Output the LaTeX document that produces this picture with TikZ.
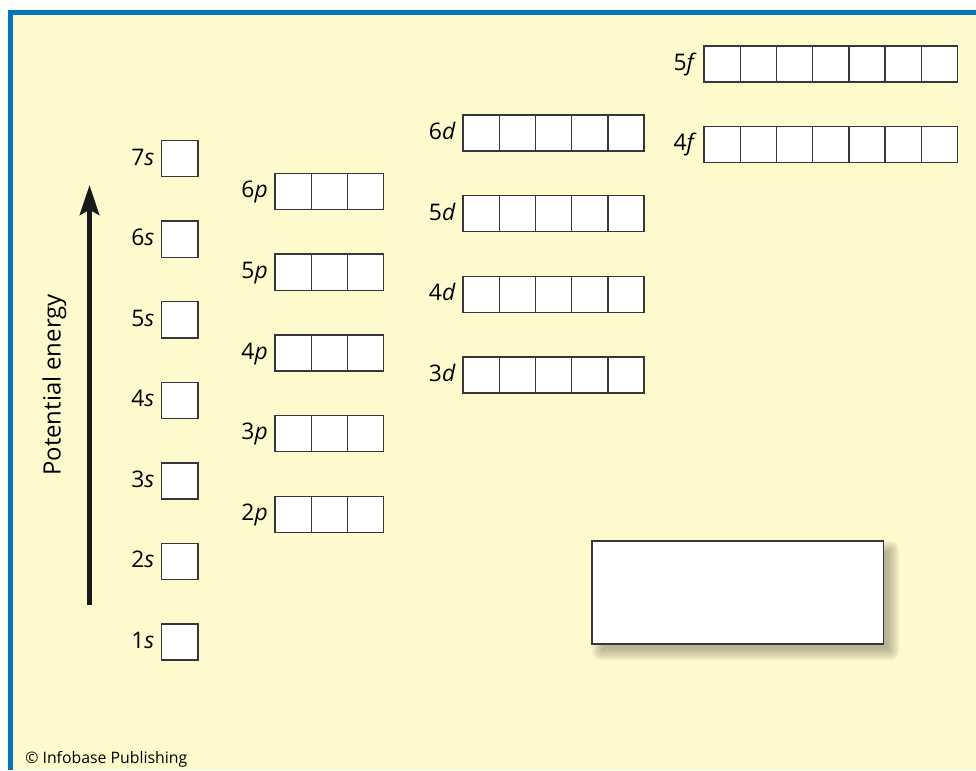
\documentclass[tikz,border=0pt]{standalone}
\usepackage{fontspec}
\setmainfont{Open Sans}
\usepackage{tikz}
\usetikzlibrary{positioning,arrows.meta}

\definecolor{paneyellow}{RGB}{255,250,206}
\definecolor{frameblue}{RGB}{0,119,188}
\definecolor{boxgray}{RGB}{55,55,55}
\definecolor{shadowolive}{RGB}{130,128,104}

\tikzset{
  orb/.style={draw=boxgray, fill=white, line width=0.8pt, minimum size=0.724cm, inner sep=0pt, outer sep=0pt},
  lbl/.style={anchor=east, inner sep=0pt, xshift=-4pt, text height=0.72em, text depth=0pt, font=\fontsize{13}{15}\selectfont},
  softshadow/.style={fill=shadowolive, opacity=0.11},
}

\begin{document}
\begin{tikzpicture}[x=0.02cm, y=-0.02cm]
  \useasboundingbox (0,0) rectangle (976,770);

  % Background and frame
  \fill[white] (0,0) rectangle (976,770);
  \fill[paneyellow] (13,15) rectangle (976,770);
  \fill[frameblue] (8,10) rectangle (976,15);
  \fill[frameblue] (8,10) rectangle (13,770);

  % s orbitals
  \foreach \n [count=\k from 0] in {7,6,5,4,3,2,1} {
    \node[orb] (s\n) at (179.7, 158.7+80.55*\k) {};
    \node[lbl] (ls\n) at (s\n.west) {\n\textit{s}};
  }

  % p orbitals
  \foreach \n [count=\k from 0] in {6,5,4,3,2} {
    \foreach \i in {1,2,3} {
      \node[orb] (p\n-\i) at (293.2+36.2*\i-36.2, 191.5+80.7*\k) {};
    }
    \node[lbl] (lp\n) at (p\n-1.west) {\n\textit{p}};
  }

  % d orbitals
  \foreach \n [count=\k from 0] in {6,5,4,3} {
    \foreach \i in {1,...,5} {
      \node[orb] (d\n-\i) at (481.1+36.2*\i-36.2, 133+80.7*\k) {};
    }
    \node[lbl] (ld\n) at (d\n-1.west) {\n\textit{d}};
  }

  % f orbitals
  \foreach \n [count=\k from 0] in {5,4} {
    \foreach \i in {1,...,7} {
      \node[orb] (f\n-\i) at (722.1+36.2*\i-36.2, 64+80.6*\k) {};
    }
    \node[lbl] (lf\n) at (f\n-1.west) {\n\textit{f}};
  }

  % Energy axis
  \coordinate (ebot) at (89.5,605);
  \coordinate (etop) at (89.5,185);
  \draw[line width=3.1pt, black!90, -{Stealth[length=17pt, width=11pt, inset=3pt]}] (ebot) -- (etop);
  \node[rotate=90, inner sep=0pt, font=\fontsize{13.6}{15}\selectfont] (penergy) at (54.5,385) {Potential energy};

  % Empty key box, soft shadow first
  \foreach \r in {-4,-2,...,8} {
    \fill[softshadow, rounded corners=\r*0.02cm+0.5pt] (600-\r,549-\r) rectangle (891+\r,652+\r);
  }
  \node[draw=boxgray, fill=white, line width=1.1pt, minimum width=5.84cm, minimum height=2.06cm] (keybox) at (737.5,592.5) {};

  % Credit
  \node[anchor=base west, inner sep=0pt, font=\fontsize{9}{11}\selectfont] (credit) at (25,763) {© Infobase Publishing};
\end{tikzpicture}
\end{document}
